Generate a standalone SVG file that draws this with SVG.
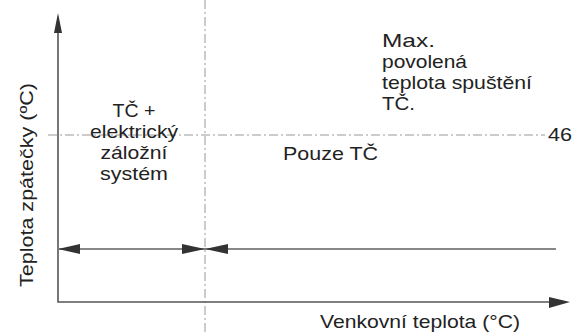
<svg xmlns="http://www.w3.org/2000/svg" width="574" height="332" viewBox="0 0 574 332">
<style>
.t{font-family:"Liberation Sans",Arial,sans-serif;font-size:19px;fill:#222}
.ax{stroke:#555;stroke-width:1.6;fill:none}
.dash{stroke:#999;stroke-width:1;stroke-dasharray:9,3,2,3;fill:none}
.hd{fill:#333}
</style>
<rect width="574" height="332" fill="#fff"/>
<g id="connectors">
<line class="dash" x1="205" y1="0" x2="205" y2="332"/>
<line class="dash" x1="48" y1="135" x2="545" y2="135"/>
<polyline class="ax" points="58,30 58,302 552,302"/>
<polygon class="hd" points="58,13 54,33 62,33"/>
<polygon class="hd" points="570,302 549,297 549,308"/>
<line x1="58" y1="249" x2="556" y2="249" stroke="#888" stroke-width="2"/>
<polygon class="hd" points="58,249 80,244 80,254"/>
<polygon class="hd" points="205,249 182,244 182,254"/>
<polygon class="hd" points="205,249 228,244 228,254"/>
</g>
<g id="label-y"><text class="t" transform="translate(33,185) rotate(-90)" text-anchor="middle" font-size="21" textLength="204" lengthAdjust="spacingAndGlyphs">Teplota zpátečky (ºC)</text></g>
<g id="label-x"><text class="t" x="420" y="328" text-anchor="middle" font-size="20" textLength="200" lengthAdjust="spacingAndGlyphs">Venkovní teplota (°C)</text></g>
<g id="region-left">
<text class="t" text-anchor="middle" x="134" y="117" textLength="43" lengthAdjust="spacingAndGlyphs">TČ +</text>
<text class="t" text-anchor="middle" x="134" y="138" textLength="88" lengthAdjust="spacingAndGlyphs">elektrický</text>
<text class="t" text-anchor="middle" x="134" y="159" textLength="67" lengthAdjust="spacingAndGlyphs">záložní</text>
<text class="t" text-anchor="middle" x="134" y="180" textLength="68" lengthAdjust="spacingAndGlyphs">systém</text>
</g>
<g id="region-right"><text class="t" x="283" y="160" textLength="95" lengthAdjust="spacingAndGlyphs">Pouze TČ</text></g>
<g id="max-note">
<text class="t" x="382" y="47" textLength="53" lengthAdjust="spacingAndGlyphs">Max.</text>
<text class="t" x="382" y="68" textLength="85" lengthAdjust="spacingAndGlyphs">povolená</text>
<text class="t" x="382" y="89" textLength="150" lengthAdjust="spacingAndGlyphs">teplota spuštění</text>
<text class="t" x="382" y="110" textLength="33" lengthAdjust="spacingAndGlyphs">TČ.</text>
</g>
<g id="value-46"><text class="t" x="548" y="141" textLength="24" lengthAdjust="spacingAndGlyphs">46</text></g>
</svg>
